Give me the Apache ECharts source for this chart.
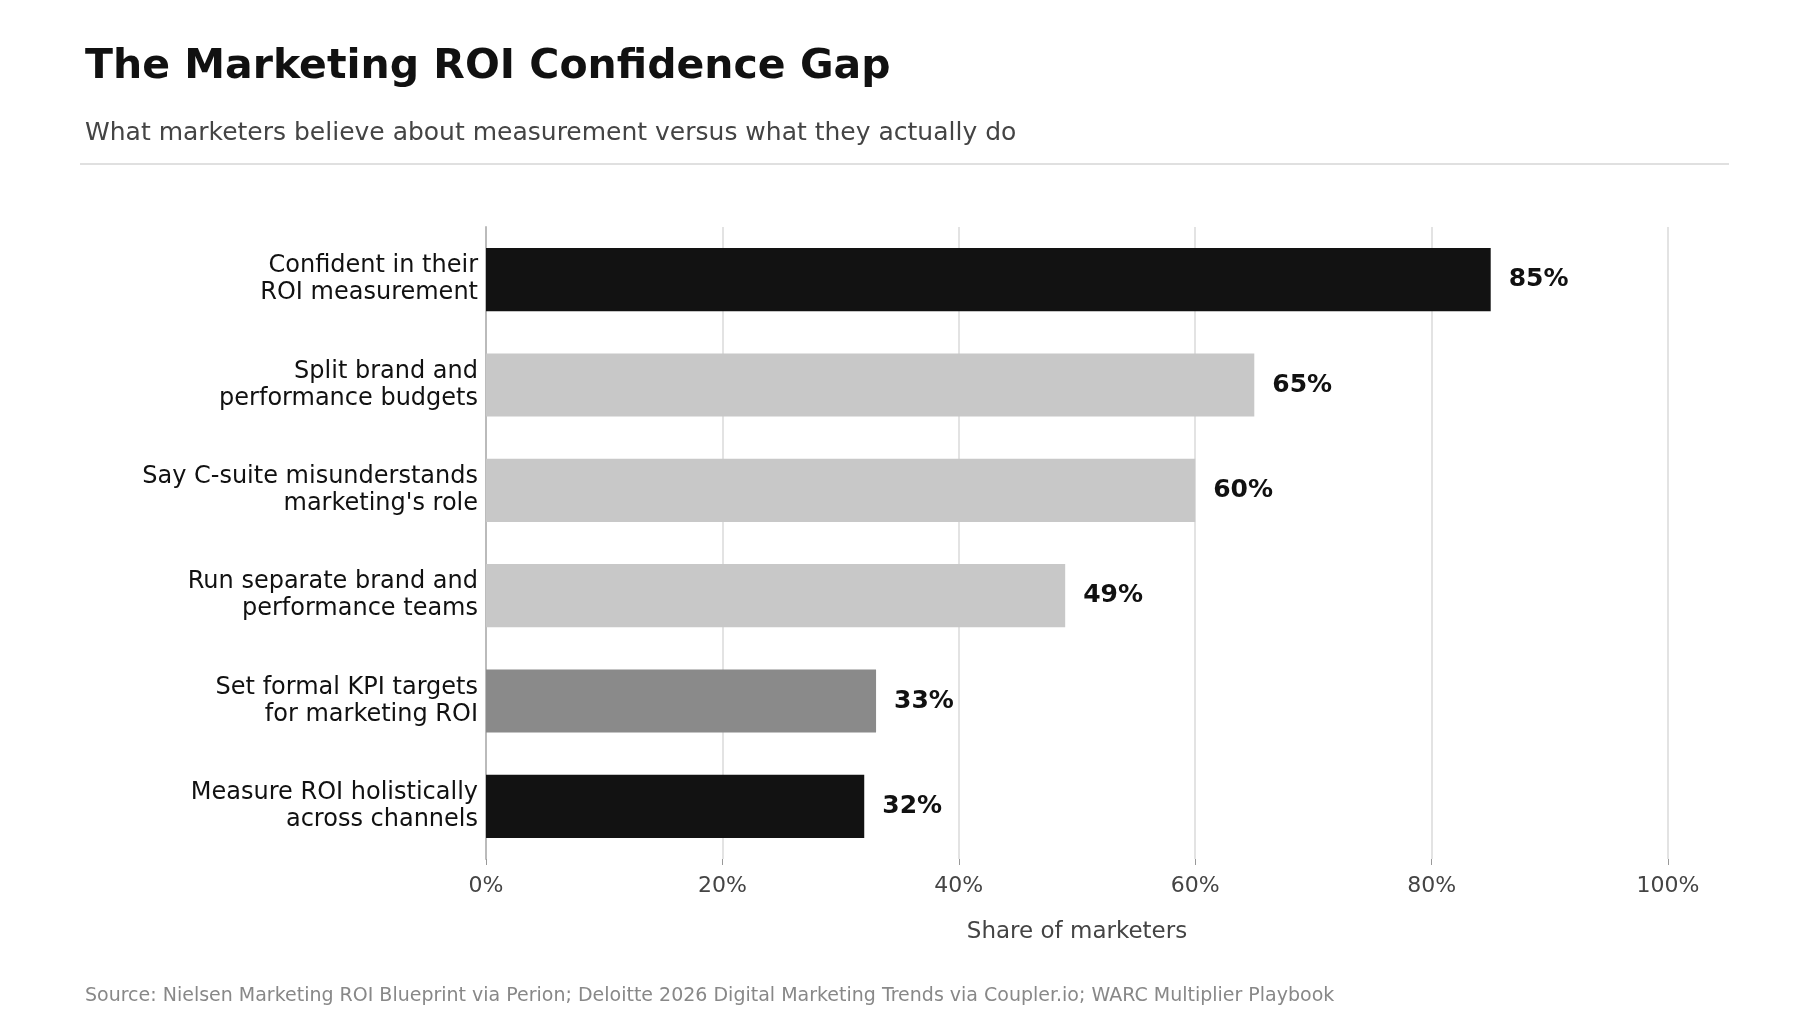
<!DOCTYPE html>
<html>
<head>
<meta charset="utf-8">
<script src="https://cdn.jsdelivr.net/npm/echarts@6/dist/echarts.min.js"></script>
<style>
html, body { margin: 0; padding: 0; background: #fff; }
#main { width: 1800px; height: 1035px; }
</style>
</head>
<body>
<div id="main"></div>
<script>
// top to bottom as in the picture
const categories = [
    'Confident in their\nROI measurement',
    'Split brand and\nperformance budgets',
    "Say C-suite misunderstands\nmarketing's role",
    'Run separate brand and\nperformance teams',
    'Set formal KPI targets\nfor marketing ROI',
    'Measure ROI holistically\nacross channels'
];
const values = [85, 65, 60, 49, 33, 32];
const barColors = ['#121212', '#c8c8c8', '#c8c8c8', '#c8c8c8', '#8a8a8a', '#121212'];
const xTicks = [0, 20, 40, 60, 80, 100];

const font = '"DejaVu Sans", sans-serif';
var myChart = echarts.init(document.getElementById('main'));
var option = {
    backgroundColor: '#fff',
    textStyle: { fontFamily: font },
    title: [
        { text: 'The Marketing ROI Confidence Gap', left: 80, top: 42,
          textStyle: { fontSize: 41, fontWeight: 'bold', color: '#111', fontFamily: font } },
        { text: 'What marketers believe about measurement versus what they actually do', left: 80, top: 116,
          textStyle: { fontSize: 25, fontWeight: 'normal', color: '#444', fontFamily: font } },
        { text: 'Source: Nielsen Marketing ROI Blueprint via Perion; Deloitte 2026 Digital Marketing Trends via Coupler.io; WARC Multiplier Playbook',
          left: 80, top: 982,
          textStyle: { fontSize: 19, fontWeight: 'normal', color: '#888', fontFamily: font } }
    ],
    graphic: [{
        type: 'line', shape: { x1: 80, y1: 164, x2: 1729, y2: 164 },
        style: { stroke: '#e0e0e0', lineWidth: 2 }
    }],
    grid: { left: 486, right: 132, top: 227, bottom: 176 },
    xAxis: {
        type: 'value', min: 0, max: 100, interval: 20,
        name: 'Share of marketers', nameLocation: 'middle', nameGap: 62,
        nameTextStyle: { fontSize: 23, color: '#444' },
        axisLabel: { formatter: v => xTicks.includes(v) ? v + '%' : '', fontSize: 22, color: '#444', margin: 16 },
        axisLine: { show: false },
        axisTick: { show: true, length: 6, lineStyle: { color: '#999' } },
        splitLine: { show: true, lineStyle: { color: '#e3e3e3', width: 2 } }
    },
    yAxis: {
        type: 'category', inverse: true, data: categories,
        axisLine: { show: true, lineStyle: { color: '#bbb', width: 2 } },
        axisTick: { show: false },
        axisLabel: { fontSize: 24, color: '#111', lineHeight: 27, margin: 8, align: 'right' }
    },
    series: [{
        type: 'bar',
        data: values.map((v, i) => ({ value: v, itemStyle: { color: barColors[i] } })),
        barCategoryGap: '40%',
        label: { show: true, position: 'right', distance: 18, formatter: '{c}%',
                 fontSize: 25, fontWeight: 'bold', color: '#111' }
    }]
};
myChart.setOption(option);
</script>
</body>
</html>
